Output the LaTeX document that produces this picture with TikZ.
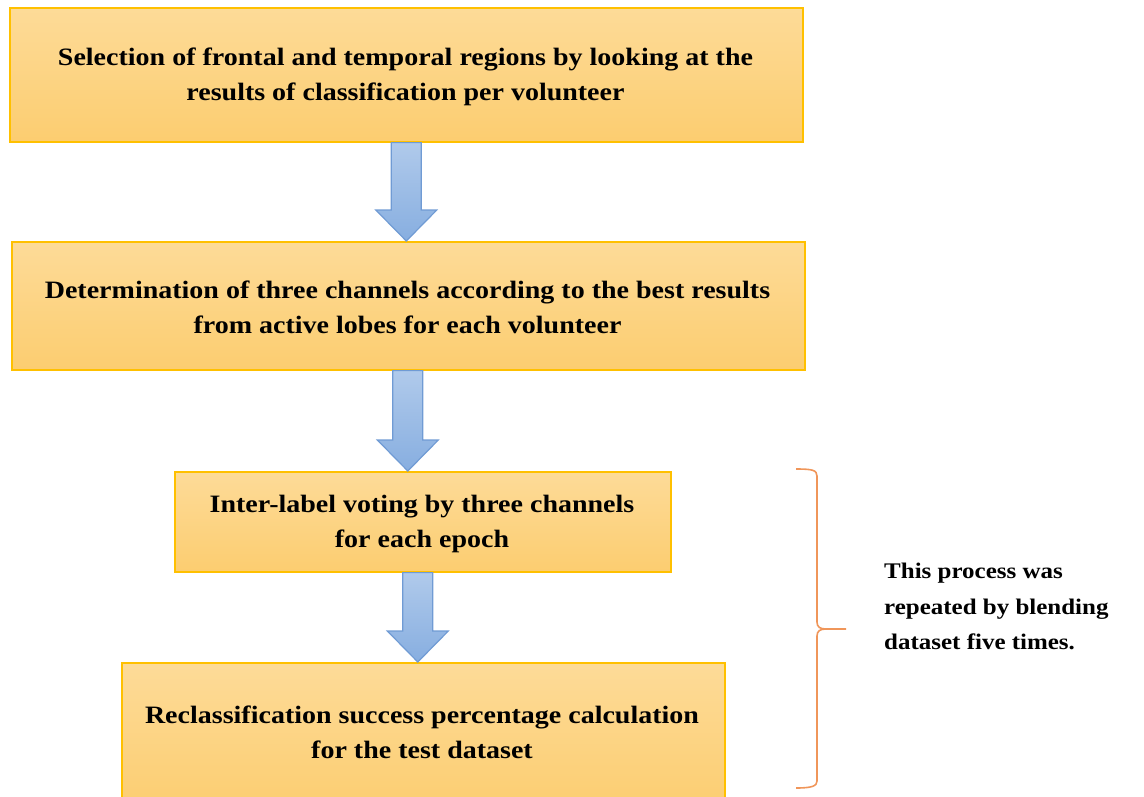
\documentclass[tikz,border=0pt]{standalone}
\usepackage{fontspec}
\setmainfont{Liberation Serif}
\newfontfamily\boxfont[FakeStretch=1.12]{Liberation Serif}
\usetikzlibrary{calc}
\definecolor{boxtop}{RGB}{253,219,152}
\definecolor{boxbot}{RGB}{252,205,112}
\definecolor{boxline}{RGB}{255,192,0}
\definecolor{arrtop}{RGB}{176,202,235}
\definecolor{arrbot}{RGB}{135,174,224}
\definecolor{arrline}{RGB}{112,155,212}
\definecolor{bracecol}{RGB}{240,150,90}
\tikzset{
  boxtext/.style={font=\boxfont\fontsize{25}{35}\selectfont\bfseries},
  stepbox/.style={draw=boxline, line width=1.6pt, top color=boxtop, bottom color=boxbot,
    anchor=north west, inner sep=0pt, align=center, boxtext},
  blockarr/.style={draw=arrline, line width=1.2pt, top color=arrtop, bottom color=arrbot, line join=miter},
  note/.style={anchor=north west, align=left, inner sep=0pt,
    font=\boxfont\fontsize{22.3}{35.5}\selectfont\bfseries},
}
\newcommand\blkarrow[3]{%
  \path[blockarr] let \p1=($(#1.south)+(#3,0)$), \p2=($(#2.north)+(#3,0)$) in
    (\x1-15pt,\y1) -- (\x1+15pt,\y1) -- (\x1+15pt,\y2+31pt) -- (\x1+30.5pt,\y2+31pt)
    -- (\x1,\y2) -- (\x1-30.5pt,\y2+31pt) -- (\x1-15pt,\y2+31pt) -- cycle;}
\begin{document}
\begin{tikzpicture}[x=1pt,y=-1pt]
\useasboundingbox (0,0) rectangle (1144,796);
\clip (0,0) rectangle (1144,796);
\node[stepbox, minimum width=793pt, minimum height=134pt] (b1) at (9,7) {};
\node[boxtext, align=center] (t1) at (405.5,77)
  {Selection of frontal and temporal regions by looking at the\\results of classification per volunteer};
\node[stepbox, minimum width=793pt, minimum height=128pt] (b2) at (11,241) {};
\node[boxtext, align=center] (t2) at (407.5,307)
  {Determination of three channels according to the best results\\from active lobes for each volunteer};
\node[stepbox, minimum width=496pt, minimum height=100pt] (b3) at (174,471) {};
\node[boxtext, align=center] (t3) at (422,524)
  {Inter-label voting by three channels\\for each epoch};
\node[stepbox, minimum width=603pt, minimum height=150pt] (b4) at (121,662) {};
\node[boxtext, align=center] (t4) at (422,732)
  {Reclassification success percentage calculation\\for the test dataset};
\blkarrow{b1}{b2}{0}
\blkarrow{b2}{b3}{-0.5}
\blkarrow{b3}{b4}{-5}
\coordinate (bt) at (796,469);
\coordinate (bm) at (846,629);
\coordinate (bb) at (796,788);
\draw[bracecol, line width=1.6pt]
  (bt) .. controls (812,469) and (817,470) .. (817,476) -- (817,622)
  .. controls (817,627) and (820,629) .. (826,629) -- (bm);
\draw[bracecol, line width=1.6pt]
  (826,629) .. controls (820,629) and (817,631) .. (817,636) -- (817,781)
  .. controls (817,786) and (812,788) .. (bb);
\node[note] (n) at (884,563) {This process was\\repeated by blending\\dataset five times.};
\end{tikzpicture}
\end{document}
